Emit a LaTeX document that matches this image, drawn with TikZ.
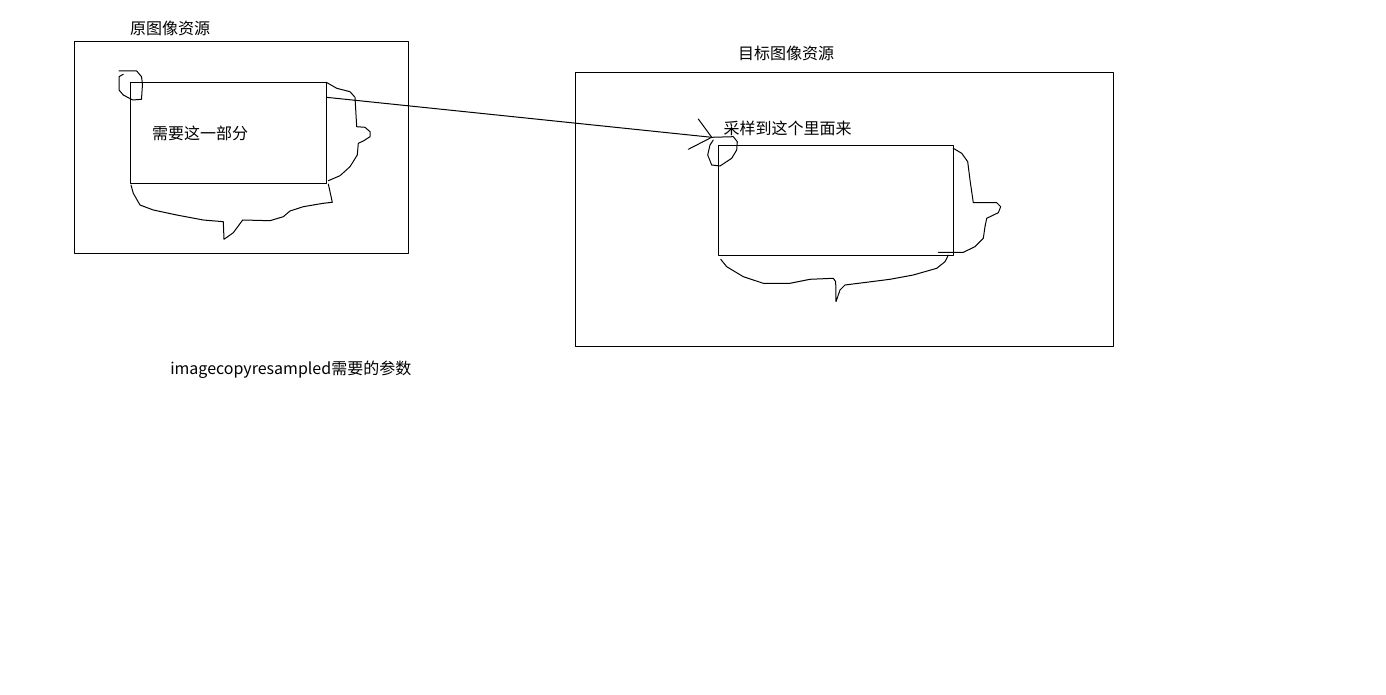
\documentclass[tikz,border=0pt]{standalone}
\usepackage{fontspec}
\setmainfont{Noto Sans CJK SC}
\usetikzlibrary{fit}
\begin{document}
\begin{tikzpicture}[x=0.75pt,y=-0.75pt,
  pen/.style={line width=0.75pt,line join=round,line cap=round},
  frame/.style={draw,pen,inner sep=0pt,fit=#1},
  label/.style={font=\fontsize{12pt}{14pt}\selectfont,inner sep=0pt,anchor=center}]
\useasboundingbox[fill=white] (0,0) rectangle (1386,695);

% source image
\coordinate (s1) at (74,42);   \coordinate (s2) at (408,254);
\node[frame=(s1)(s2)] (src) {};
\coordinate (p1) at (130.3,83); \coordinate (p2) at (326.3,184);
\node[frame=(p1)(p2)] (part) {};
\node[label] (srctitle) at (170,28) {原图像资源};
\node[label] (parttext) at (200,133) {需要这一部分};

% source corner scribble
\draw[pen] (119,71) -- (136.7,71) -- (141.5,76.7) -- (142.5,84) -- (141.5,99.3)
  -- (132.7,100) -- (123.3,95) -- (119,90) -- (119,76.7) -- (123.3,74.3);

% source speech-bubble outline
\draw[pen] (326.3,82.3) -- (336.7,88.3) -- (350,91.7) -- (355,97.3) -- (356.7,126.7)
  -- (365,127.3) -- (370,131.7) -- (370,136.7) -- (363.3,141) -- (358.3,143.3)
  -- (357.3,155) -- (350,166.7) -- (340,175.7) -- (328.3,180.7);
\draw[pen] (131,185) -- (133.3,193.3) -- (140,205) -- (153.3,210) -- (176.7,215)
  -- (203.3,220) -- (223.3,221.7) -- (224,239.3) -- (233.3,232.7) -- (242.7,220)
  -- (270,220.7) -- (283.3,216.7) -- (290,211) -- (303.3,206.7) -- (323.3,203.3)
  -- (332.3,202.3) -- (330,191.7) -- (328.3,184);

% target image
\coordinate (t1) at (575,72.3); \coordinate (t2) at (1113,347);
\node[frame=(t1)(t2)] (dst) {};
\coordinate (q1) at (718.3,145.3); \coordinate (q2) at (953.3,256);
\node[frame=(q1)(q2)] (area) {};
\node[label] (dsttitle) at (786,53) {目标图像资源};
\node[label] (areatext) at (787.5,128) {采样到这个里面来};

% target corner scribble
\coordinate (tip) at (711.7,137.3);
\draw[pen] (tip) -- (733.3,136.7) -- (737.3,141.7) -- (736.7,150) -- (731.7,158.3)
  -- (720,166) -- (711.7,165) -- (707.7,155) -- (710,145) -- (713.3,140);

% target speech-bubble outline
\draw[pen] (953.3,148.3) -- (961.7,153.3) -- (967.7,161.7) -- (970,180) -- (973.3,202.7)
  -- (996.7,202.7) -- (1000.7,206.7) -- (998.3,212.7) -- (986.7,218.3) -- (985,226.7)
  -- (983.3,238.3) -- (975,246.7) -- (963.3,252.3) -- (938.3,252.3);
\draw[pen] (720.7,259.3) -- (726.7,266.7) -- (743.3,276.7) -- (763.3,283.3) -- (790,283.3)
  -- (810,279.3) -- (833.3,278.3) -- (835.7,281.7) -- (836,301.7) -- (840,290)
  -- (845,285) -- (863.3,282.7) -- (890,279.3) -- (913.3,275) -- (936.7,268.3)
  -- (945,261.7) -- (948.3,255);

% connector with hand-drawn head
\coordinate (from) at (326.3,97.3);
\coordinate (h1) at (698.3,119);
\coordinate (h2) at (688.3,149.3);
\draw[pen] (from) -- (tip);
\draw[pen] (h1) -- (tip) -- (h2);

% caption
\node[label,anchor=west] (caption) at (170,370) {imagecopyresampled需要的参数};
\end{tikzpicture}
\end{document}
